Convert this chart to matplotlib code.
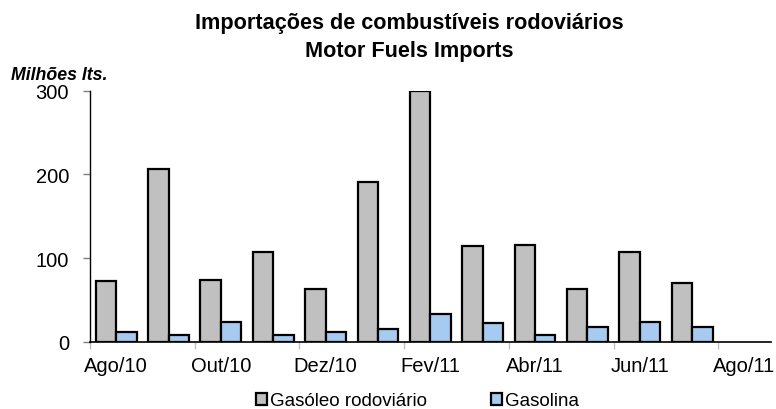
import matplotlib
matplotlib.use("Agg")
import matplotlib.pyplot as plt
from matplotlib.patches import Patch
import numpy as np

plt.rcParams['font.family'] = ['Liberation Sans', 'DejaVu Sans']

months = ["Ago/10", "Set/10", "Out/10", "Nov/10", "Dez/10", "Jan/11", "Fev/11",
          "Mar/11", "Abr/11", "Mai/11", "Jun/11", "Jul/11", "Ago/11"]
gasoleo = [72, 206, 74, 107, 63, 191, 300, 114, 116, 63, 107, 70, np.nan]
gasolina = [11, 8, 24, 8, 11, 15, 33, 22, 8, 18, 24, 18, np.nan]
series_names = ["Gasóleo rodoviário", "Gasolina"]
colors = ["#C0C0C0", "#A6CAF0"]
yticks = [0, 100, 200, 300]

fig = plt.figure(figsize=(7.76, 4.10), dpi=100)
W, H = 776, 410
ax = fig.add_axes([90 / W, (H - 342.7) / H, (770.7 - 90) / W, (342.7 - 91.7) / H])

x = np.arange(len(months))
bw = 0.39
ax.bar(x - bw / 2, gasoleo, bw, color=colors[0], edgecolor="black", linewidth=1.6, zorder=3)
ax.bar(x + bw / 2, gasolina, bw, color=colors[1], edgecolor="black", linewidth=1.6, zorder=3)

ax.set_xlim(-0.5, len(months) - 0.5)
ax.set_ylim(0, 300)
ax.set_yticks(yticks)
ax.set_yticklabels([str(v) for v in yticks], fontsize=14.5)
ax.tick_params(axis='y', direction='out', length=5, width=1, color='#808080', pad=10)

ax.set_xticks(x[::2])
ax.set_xticklabels(months[::2], fontsize=14.5)
ax.tick_params(axis='x', which='major', length=0, pad=10.5)
ax.set_xticks(np.arange(-0.5, len(months), 2), minor=True)
ax.tick_params(axis='x', which='minor', direction='out', length=5, width=1, color='#C0C0C0')

for s in ['top', 'right']:
    ax.spines[s].set_visible(False)
ax.spines['left'].set_color('black')
ax.spines['bottom'].set_color('black')
ax.spines['left'].set_linewidth(1.0)
ax.spines['bottom'].set_linewidth(1.2)

fig.text(409 / W, 1 - 29.3 / H, "Importações de combustíveis rodoviários", ha='center', va='baseline',
         fontsize=15.6, fontweight='bold')
fig.text(409 / W, 1 - 56.7 / H, "Motor Fuels Imports", ha='center', va='baseline',
         fontsize=15.6, fontweight='bold')
fig.text(11 / W, 1 - 80 / H, "Milhões lts.", ha='left', va='baseline', fontsize=12.8,
         fontweight='bold', fontstyle='italic')

handles = [Patch(facecolor=colors[i], edgecolor='black', linewidth=1.6) for i in range(2)]
fig.legend(handles, series_names, loc='center', bbox_to_anchor=(417.5 / W, 1 - 402 / H),
           ncol=2, frameon=False, fontsize=13.5, handlelength=0.6, handleheight=0.6,
           handletextpad=0.15, columnspacing=3.4, borderaxespad=0, borderpad=0)

fig.savefig("out.png", dpi=100)
